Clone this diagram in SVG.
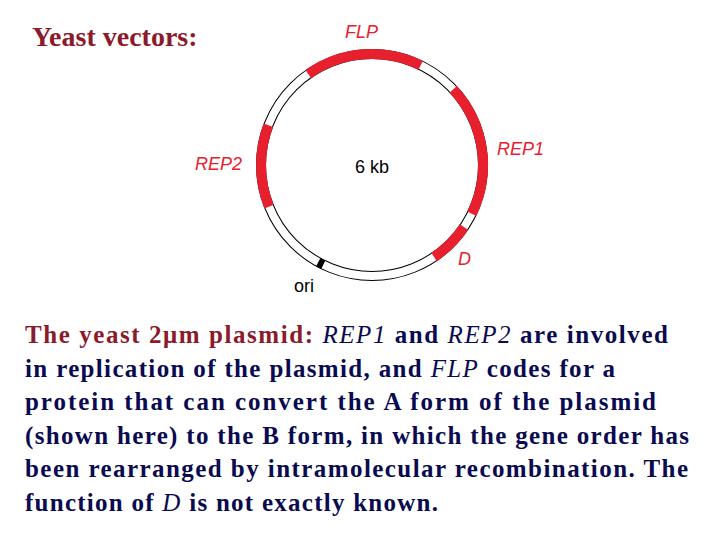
<svg xmlns="http://www.w3.org/2000/svg" width="720" height="540" viewBox="0 0 720 540">
<style>
.gene{fill:none;stroke:#e8202e;stroke-width:10}
.lbl{font-family:"Liberation Sans",Arial,sans-serif;font-size:18px;font-style:italic;fill:#e8202e}
.body{font-family:"Liberation Serif","Times New Roman",serif;font-size:25px;font-weight:bold;fill:#0a0a50}
.it{font-style:italic;font-weight:normal}
</style>
<rect width="720" height="540" fill="#fff"/>
<text x="32" y="46" font-family="Liberation Serif,Times New Roman,serif" font-size="28" font-weight="bold" fill="#8b1a2b">Yeast vectors:</text>
<g id="plasmid">
<circle cx="372" cy="165" r="111" fill="none" stroke="#000" stroke-width="10"/>
<circle cx="372" cy="165" r="111" fill="none" stroke="#fff" stroke-width="8"/>
</g>
<g id="connectors">
<path id="FLP" class="gene" d="M308.3,74.1 A111,111 0 0 1 420.7,65.2"/>
<path id="REP1" class="gene" d="M453.2,89.3 A111,111 0 0 1 471.8,213.7"/>
<path id="D" class="gene" d="M464.0,227.1 A111,111 0 0 1 434.1,257.0"/>
<path id="REP2" class="gene" d="M269.1,206.6 A111,111 0 0 1 268.4,125.2"/>
<path id="ori" d="M323.3,264.8 A111,111 0 0 1 318.2,262.2" fill="none" stroke="#000" stroke-width="9"/>
</g>
<g id="labels">
<text class="lbl" x="345" y="38">FLP</text>
<text class="lbl" x="497" y="155">REP1</text>
<text class="lbl" x="195" y="170">REP2</text>
<text class="lbl" x="458" y="265">D</text>
<text x="372" y="173" text-anchor="middle" font-family="Liberation Sans,Arial,sans-serif" font-size="18" fill="#000">6 kb</text>
<text x="294" y="292" font-family="Liberation Sans,Arial,sans-serif" font-size="18" fill="#000">ori</text>
</g>
<g id="caption">
<text class="body" x="25" y="343" textLength="643"><tspan fill="#8b1a2b">The yeast 2μm plasmid:</tspan> <tspan class="it">REP1</tspan> and <tspan class="it">REP2</tspan> are involved</text>
<text class="body" x="25" y="377" textLength="590">in replication of the plasmid, and <tspan class="it">FLP</tspan> codes for a</text>
<text class="body" x="25" y="410" textLength="631">protein that can convert the A form of the plasmid</text>
<text class="body" x="25" y="444" textLength="664">(shown here) to the B form, in which the gene order has</text>
<text class="body" x="25" y="477" textLength="663">been rearranged by intramolecular recombination. The</text>
<text class="body" x="25" y="511" textLength="413">function of <tspan class="it">D</tspan> is not exactly known.</text>
</g>
</svg>
